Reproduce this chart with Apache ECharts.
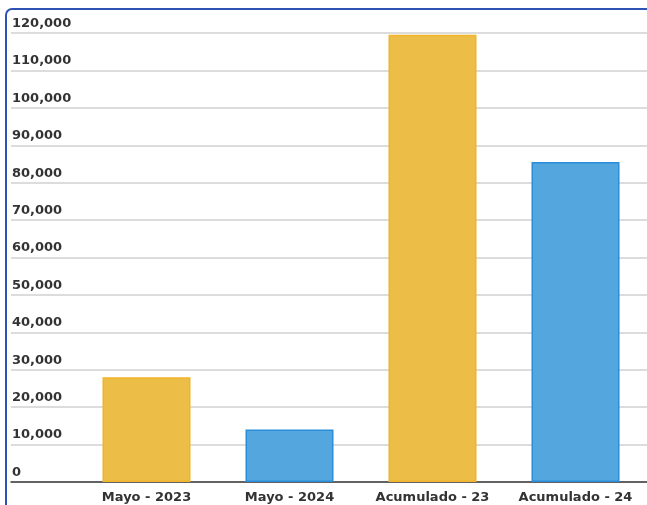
<!DOCTYPE html>
<html>
<head>
<meta charset="utf-8">
<style>html,body{margin:0;padding:0;background:#fff;}#c{width:647px;height:505px;}</style>
<script src="https://cdn.jsdelivr.net/npm/echarts@6/dist/echarts.min.js"></script>
</head>
<body>
<div id="c"></div>
<script>
const categories = ['Mayo - 2023', 'Mayo - 2024', 'Acumulado - 23', 'Acumulado - 24'];
const values = [28000, 14000, 119500, 85500];
const yMin = 0, yMax = 120000, yStep = 10000;

const fills = ['#ECBE48', '#54A6DF', '#ECBE48', '#54A6DF'];
const borders = ['#F0B42A', '#2A8DD9', '#F0B42A', '#2A8DD9'];
const font = 'DejaVu Sans';

const chart = echarts.init(document.getElementById('c'), null, {renderer: 'canvas'});
chart.setOption({
  animation: false,
  backgroundColor: '#fff',
  graphic: [{
    type: 'rect', z: 100,
    shape: {x: 6, y: 9, width: 700, height: 600, r: 6},
    style: {fill: 'none', stroke: '#2d52b3', lineWidth: 2}
  }],
  grid: [
    {left: 75, width: 577, top: 33, bottom: 23},
    {left: 11, right: 0, top: 33, bottom: 23}
  ],
  xAxis: [
    {
      type: 'category', gridIndex: 0, data: categories,
      axisLine: {show: false}, axisTick: {show: false},
      axisLabel: {interval: 0, hideOverlap: false, color: '#333', fontFamily: font, fontWeight: 'bold', fontSize: 13, margin: 9}
    },
    {
      type: 'value', gridIndex: 1, min: 0, max: 1,
      axisLine: {show: true, onZero: false, lineStyle: {color: '#3a3a3a', width: 1.5}},
      axisTick: {show: false}, axisLabel: {show: false}, splitLine: {show: false}
    }
  ],
  yAxis: [
    {type: 'value', gridIndex: 0, min: yMin, max: yMax, interval: yStep, show: false},
    {
      type: 'value', gridIndex: 1, min: yMin, max: yMax, interval: yStep,
      axisLine: {show: false}, axisTick: {show: false},
      splitLine: {show: true, lineStyle: {color: '#dcdcdc', width: 2}},
      axisLabel: {
        inside: true, margin: 1, align: 'left', verticalAlign: 'bottom',
        padding: [0, 0, 3, 0],
        color: '#333', fontFamily: font, fontWeight: 'bold', fontSize: 13,
        formatter: v => v.toLocaleString('en-US')
      }
    }
  ],
  series: [{
    type: 'bar', xAxisIndex: 0, yAxisIndex: 0, barWidth: 88,
    data: values.map((v, i) => ({
      value: v,
      itemStyle: {color: fills[i], borderColor: borders[i], borderWidth: 1.5}
    }))
  }]
});
</script>
</body>
</html>
